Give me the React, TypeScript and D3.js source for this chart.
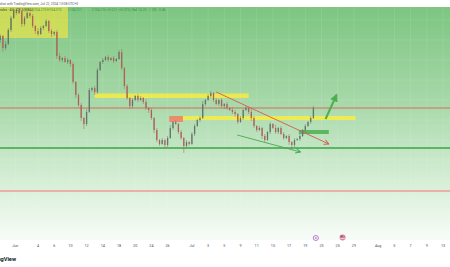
import React, { useEffect, useRef } from "react";
import * as d3 from "d3";

const W = 450;
const H = 267;

// trading-day index, 0 = Jun 3
const tickLabels = ["Jun", "4", "6", "10", "12", "14", "18", "20", "24", "26", "Jul", "3", "5", "9", "11", "15", "17", "19", "23", "25", "29", "Aug", "5", "7", "9", "13"];
const tickDays = [-1.8, 1, 3, 5, 7, 9, 11, 13, 15, 17, 20, 22, 24, 26, 28, 30, 32, 34, 36, 38, 40, 43, 45, 47, 49, 51];

// 3 candles per trading day, first one on May 29
const firstDay = -11 / 3;
const firstOpen = 200;
const closes = [
    204, 192, 196, 210, 222, 230, 227, 229, 216, 222,
    227, 224, 214, 209, 206, 212, 214, 219, 209, 206,
    208, 184, 180, 182, 178, 180, 176, 158, 145, 135,
    122, 116, 128, 150, 152, 148, 170, 178, 180, 183,
    180, 182, 179, 181, 188, 172, 154, 142, 134, 140,
    144, 140, 142, 138, 132, 130, 122, 110, 100, 96,
    100, 95, 102, 112, 118, 116, 108, 102, 94, 98,
    96, 106, 114, 120, 122, 136, 140, 144, 147, 140,
    136, 140, 134, 136, 132, 130, 128, 126, 118, 122,
    130, 132, 128, 122, 114, 110, 112, 104, 100, 108,
    116, 112, 108, 112, 106, 102, 104, 98, 95, 100,
    101, 104, 110, 114, 118, 122, 132,
];
const upWick = [
    2, 1, 3, 2, 2, 2, 1, 3, 1, 2, 2, 1, 2, 1, 3, 2, 1, 2, 1, 2,
    1, 2, 3, 1, 2, 2, 1, 2, 1, 2, 2, 1, 3, 2, 1, 2, 2, 1, 2, 1,
    2, 1, 2, 1, 2, 3, 1, 2, 1, 2, 1, 2, 2, 1, 3, 1, 2, 1, 2, 1,
    2, 1, 2, 3, 1, 2, 1, 2, 1, 2, 1, 2, 2, 1, 2, 3, 1, 2, 2, 1,
    2, 1, 2, 1, 2, 1, 3, 2, 1, 2, 1, 2, 1, 3, 2, 1, 2, 1, 2, 1,
    2, 1, 3, 1, 2, 2, 1, 2, 1, 2, 1, 2, 1, 2, 1, 2, 2,
];
const downWick = [
    3, 4, 2, 1, 2, 1, 2, 1, 3, 2, 1, 2, 2, 3, 2, 1, 2, 1, 2, 3,
    2, 3, 2, 2, 1, 2, 3, 2, 3, 2, 3, 5, 2, 1, 2, 3, 2, 1, 2, 1,
    2, 1, 2, 1, 1, 2, 3, 2, 3, 2, 1, 2, 1, 2, 2, 3, 2, 3, 2, 2,
    1, 3, 2, 1, 2, 1, 2, 2, 7, 2, 2, 1, 2, 1, 2, 1, 2, 1, 2, 2,
    1, 2, 2, 3, 2, 1, 2, 3, 2, 1, 2, 1, 2, 3, 2, 2, 1, 3, 2, 1,
    2, 1, 2, 2, 1, 2, 1, 3, 4, 2, 1, 2, 1, 2, 1, 2, 1,
];

// drawings: [day0, day1, priceLo, priceHi]
const yellowZones = [
    [-3.7, 4.7, 202, 233],
    [8.0, 27.0, 142, 146.5],
    [18.8, 40.2, 120, 124],
];
const orangeZone = [17.2, 18.9, 118, 124];
const greenZone = [33.2, 36.9, 106, 110];
const levelPrices = [132, 92, 49];
const redTrend = [[23.0, 148], [36.9, 96]];
const greenTrend = [[25.6, 105], [33.4, 88]];
const upArrow = [[36.5, 121], [37.85, 145]];
const eventDays = [35.3, 38.6];

export default function App() {
    const ref = useRef<SVGSVGElement>(null);

    useEffect(() => {
        const svg = d3.select(ref.current);
        svg.selectAll("*").remove();

        const x = d3.scaleLinear().domain([0, 51]).range([29.9, 29.9 + 8.1 * 51]);
        const y = d3.scaleLinear().domain([0, 233]).range([240, 7]);
        const font = "Roboto, 'Liberation Sans', sans-serif";

        const defs = svg.append("defs");
        const grad = defs.append("linearGradient").attr("id", "bg")
            .attr("x1", 0).attr("y1", 0).attr("x2", 0).attr("y2", 1);
        [[0, "#7dc581"], [0.4, "#a6d8a8"], [0.62, "#c4e6c5"], [0.8, "#ddf1dd"], [1, "#f8fcf8"]]
            .forEach(([o, c]) => grad.append("stop").attr("offset", o).attr("stop-color", c));
        defs.append("clipPath").attr("id", "pane")
            .append("rect").attr("x", 0).attr("y", 7).attr("width", W).attr("height", 233);

        const marker = (id, color, filled, size) => {
            defs.append("marker").attr("id", id)
                .attr("viewBox", "0 0 10 10").attr("refX", filled ? 8 : 9).attr("refY", 5)
                .attr("markerWidth", size).attr("markerHeight", size)
                .attr("markerUnits", "userSpaceOnUse").attr("orient", "auto")
                .append("path")
                .attr("d", filled ? "M0,0L10,5L0,10Z" : "M1,1L9,5L1,9")
                .attr("fill", filled ? color : "none")
                .attr("stroke", color).attr("stroke-width", filled ? 0 : 1.6);
        };
        marker("arRed", "#d65a4c", false, 6);
        marker("arGreen", "#47a84f", false, 6);
        marker("arUp", "#4caf50", true, 8);

        svg.append("rect").attr("width", W).attr("height", H).attr("fill", "#fff");
        svg.append("rect").attr("x", 0).attr("y", 7).attr("width", W).attr("height", 233).attr("fill", "url(#bg)");

        const pane = svg.append("g").attr("clip-path", "url(#pane)");

        // grid
        pane.append("g").selectAll("line").data(tickDays).join("line")
            .attr("x1", (d) => x(d)).attr("x2", (d) => x(d)).attr("y1", 7).attr("y2", 240)
            .attr("stroke", "#ffffff").attr("stroke-opacity", 0.16).attr("stroke-width", 0.6);
        pane.append("g").selectAll("line").data(y.ticks(12)).join("line")
            .attr("x1", 0).attr("x2", W).attr("y1", (d) => y(d)).attr("y2", (d) => y(d))
            .attr("stroke", "#ffffff").attr("stroke-opacity", 0.16).attr("stroke-width", 0.6);

        const zone = (g, z, fill, op) => g.append("rect")
            .attr("x", x(z[0])).attr("width", x(z[1]) - x(z[0]))
            .attr("y", y(z[3])).attr("height", y(z[2]) - y(z[3]))
            .attr("fill", fill).attr("fill-opacity", op);

        zone(pane, yellowZones[0], "#ffeb3b", 0.58);
        zone(pane, yellowZones[1], "#ffee3b", 0.78);
        zone(pane, yellowZones[2], "#ffee3b", 0.78);
        zone(pane, orangeZone, "#f57c5a", 0.8);
        zone(pane, greenZone, "#4caf50", 0.85);

        // horizontal levels
        const levelColors = ["#d66a5c", "#3aa548", "#f09a94"];
        const levelWidths = [1, 1.5, 1.3];
        pane.append("g").selectAll("line").data(levelPrices).join("line")
            .attr("x1", 0).attr("x2", W)
            .attr("y1", (d) => y(d)).attr("y2", (d) => y(d))
            .attr("stroke", (d, i) => levelColors[i]).attr("stroke-width", (d, i) => levelWidths[i]);

        // candles
        const candles = closes.map((c, i) => {
            const o = i === 0 ? firstOpen : closes[i - 1];
            return { d: firstDay + i / 3, o, c, h: Math.max(o, c) + upWick[i], l: Math.min(o, c) - downWick[i] };
        });
        const cg = pane.append("g").selectAll("g").data(candles).join("g");
        const col = (d) => (d.c >= d.o ? "#66736b" : "#ad6058");
        cg.append("line")
            .attr("x1", (d) => x(d.d)).attr("x2", (d) => x(d.d))
            .attr("y1", (d) => y(d.h)).attr("y2", (d) => y(d.l))
            .attr("stroke", col).attr("stroke-width", 0.5);
        cg.append("rect")
            .attr("x", (d) => x(d.d) - 0.65).attr("width", 1.3)
            .attr("y", (d) => y(Math.max(d.o, d.c)))
            .attr("height", (d) => Math.max(0.6, Math.abs(y(d.o) - y(d.c))))
            .attr("fill", col);

        // trend lines
        const seg = (pts, color, w, mk) => pane.append("line")
            .attr("x1", x(pts[0][0])).attr("y1", y(pts[0][1]))
            .attr("x2", x(pts[1][0])).attr("y2", y(pts[1][1]))
            .attr("stroke", color).attr("stroke-width", w)
            .attr("marker-end", `url(#${mk})`);
        seg(redTrend, "#d65a4c", 0.9, "arRed");
        seg(greenTrend, "#47a84f", 0.9, "arGreen");
        seg(upArrow, "#4caf50", 2, "arUp");

        // header
        svg.append("text").attr("x", 78).attr("y", 4.6).attr("text-anchor", "end")
            .attr("font-family", font).attr("font-size", 3.3).attr("fill", "#555")
            .text("EURUSD snapshot with TradingView.com, Jul 22, 2024 13:08 UTC+0");
        svg.append("text").attr("x", 0).attr("y", 11.2)
            .attr("font-family", font).attr("font-size", 3.3).attr("fill", "#3b4a35")
            .text("ndex · 4h · ICE  S(MBA)");
        const legend = ["O104.275 H104.310", "L104.221", "C104.296 +0.021 (+0.02%)", "Vol", "14.2K  ·  1.2M  ·  0.48"];
        const legendX = [32, 68, 92, 132, 138];
        svg.append("g").selectAll("text").data(legend).join("text")
            .attr("x", (d, i) => legendX[i]).attr("y", 11.2)
            .attr("font-family", font).attr("font-size", 3.3).attr("fill", "#3f9a48")
            .attr("font-weight", (d, i) => (i === 3 ? "bold" : "normal"))
            .text((d) => d);

        // time axis
        svg.append("g").selectAll("text").data(tickLabels).join("text")
            .attr("x", (d, i) => x(tickDays[i])).attr("y", 247)
            .attr("text-anchor", "middle").attr("font-family", font)
            .attr("font-size", 3.7).attr("fill", "#4a4a4a")
            .text((d) => d);

        // event icons
        svg.append("circle").attr("cx", x(eventDays[0])).attr("cy", 238).attr("r", 2.6)
            .attr("fill", "#f5e9f8").attr("stroke", "#a65cc4").attr("stroke-width", 0.7);
        svg.append("circle").attr("cx", x(eventDays[0])).attr("cy", 238).attr("r", 0.8).attr("fill", "#a65cc4");
        svg.append("circle").attr("cx", x(eventDays[1])).attr("cy", 237.5).attr("r", 3)
            .attr("fill", "#e07f95");
        svg.append("rect").attr("x", x(eventDays[1]) - 2).attr("y", 235.5).attr("width", 2).attr("height", 1.6)
            .attr("fill", "#5a5fa8");
        svg.append("line").attr("x1", x(eventDays[1]) - 2.4).attr("x2", x(eventDays[1]) + 2.4)
            .attr("y1", 238.6).attr("y2", 238.6).attr("stroke", "#ffffff").attr("stroke-width", 0.6);

        // logo
        svg.append("text").attr("x", 16).attr("y", 261).attr("text-anchor", "end")
            .attr("font-family", font).attr("font-size", 5.6).attr("font-weight", "bold")
            .attr("fill", "#131722").text("TradingView");
    }, []);

    return (
        <div style={{ position: "fixed", left: 0, top: 0, width: W, height: H }}>
            <svg ref={ref} width={W} height={H} style={{ display: "block" }}></svg>
        </div>
    );
}
